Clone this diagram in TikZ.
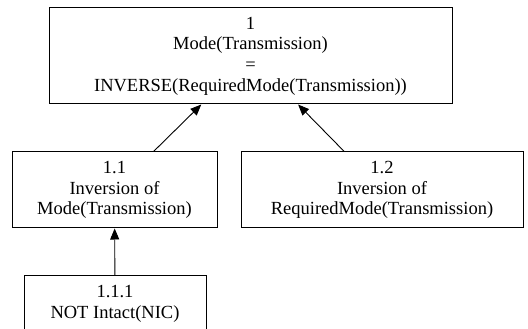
\documentclass[tikz,border=0pt]{standalone}
\usepackage{fontspec}
\setmainfont{Liberation Serif}
\usepackage{tikz}
\usetikzlibrary{
  arrows.meta,
  positioning
}
\newcommand{\goalfont}{\fontsize{18.5}{20.7}\selectfont}
\tikzset{
  goal/.style={
    rectangle, draw=black, line width=1pt, fill=white,
    align=center, inner sep=0pt, font=\goalfont
  },
  support/.style={-{Triangle[length=11pt,width=9pt]}, line width=0.9pt}
}
\begin{document}
\begin{tikzpicture}[x=1pt,y=1pt]
  \useasboundingbox (0,0) rectangle (528,329);
  % Goals
  \node[goal, minimum width=403pt, minimum height=96pt] (g1) at (250.5,273)
    {1\\Mode(Transmission)\\=\\INVERSE(RequiredMode(Transmission))};
  \node[goal, minimum width=205pt, minimum height=76pt] (g11) at (114.5,139)
    {1.1\\Inversion of\\Mode(Transmission)};
  \node[goal, minimum width=282pt, minimum height=76pt] (g12) at (382,139)
    {1.2\\Inversion of\\RequiredMode(Transmission)};
  \node[goal, minimum width=182pt, minimum height=56pt] (g111) at (115,25)
    {1.1.1\\NOT Intact(NIC)};
  % Support links
  \draw[support] (g11) -- (g1);
  \draw[support] (g12) -- (g1);
  \draw[support] (g111) -- (g11);
\end{tikzpicture}
\end{document}
